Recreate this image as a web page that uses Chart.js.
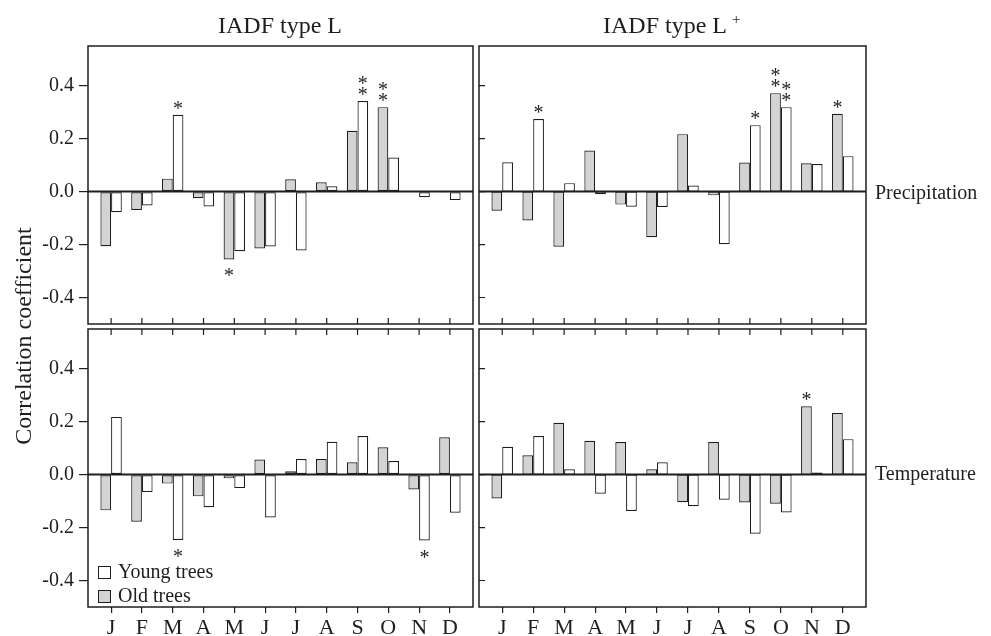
<!DOCTYPE html>
<html>
<head>
<meta charset="utf-8">
<script src="https://cdn.jsdelivr.net/npm/chart.js@4.4.1/dist/chart.umd.min.js"></script>
<style>
html,body{margin:0;padding:0;background:#fff;}
#wrap{position:relative;width:991px;height:636px;overflow:hidden;background:#fff;}
#wrap canvas{position:absolute;left:0;top:0;}
</style>
</head>
<body>
<div id="wrap">
<canvas id="tl" width="991" height="636"></canvas>
<canvas id="tr" width="991" height="636"></canvas>
<canvas id="bl" width="991" height="636"></canvas>
<canvas id="br" width="991" height="636"></canvas>
</div>
<script>
// ---- data ----
const months = ['J','F','M','A','M','J','J','A','S','O','N','D'];
const yTicks = [-0.4, -0.2, 0.0, 0.2, 0.4];

// Precipitation, IADF type L
const precipL_old   = [-0.206,-0.069, 0.049,-0.025,-0.256,-0.215, 0.047, 0.035, 0.230, 0.319,-0.002,-0.001];
const precipL_young = [-0.078,-0.052, 0.290,-0.056,-0.225,-0.207,-0.222, 0.020, 0.342, 0.129,-0.021,-0.032];
const precipL_oldSig   = [0,0,0,0,1,0,0,0,0,2,0,0];
const precipL_youngSig = [0,0,1,0,0,0,0,0,2,0,0,0];

// Precipitation, IADF type L+
const precipLp_old   = [-0.072,-0.109,-0.208, 0.155,-0.049,-0.172, 0.217,-0.014, 0.110, 0.372, 0.107, 0.294];
const precipLp_young = [ 0.111, 0.274, 0.032,-0.010,-0.057,-0.058, 0.023,-0.199, 0.251, 0.319, 0.104, 0.134];
const precipLp_oldSig   = [0,0,0,0,0,0,0,0,0,2,0,1];
const precipLp_youngSig = [0,1,0,0,0,0,0,0,1,2,0,0];

// Temperature, IADF type L
const tempL_old   = [-0.135,-0.178,-0.034,-0.082,-0.014, 0.057, 0.013, 0.059, 0.047, 0.103,-0.056, 0.141];
const tempL_young = [ 0.218,-0.066,-0.247,-0.123,-0.051,-0.162, 0.059, 0.124, 0.146, 0.051,-0.249,-0.144];
const tempL_oldSig   = [0,0,0,0,0,0,0,0,0,0,0,0];
const tempL_youngSig = [0,0,1,0,0,0,0,0,0,0,1,0];

// Temperature, IADF type L+
const tempLp_old   = [-0.090, 0.073, 0.196, 0.128, 0.123, 0.020,-0.104, 0.123,-0.105,-0.110, 0.258, 0.233];
const tempLp_young = [ 0.105, 0.146, 0.020,-0.072,-0.137, 0.047,-0.119,-0.095,-0.223,-0.143, 0.008, 0.134];
const tempLp_oldSig   = [0,0,0,0,0,0,0,0,0,0,1,0];
const tempLp_youngSig = [0,0,0,0,0,0,0,0,0,0,0,0];

// ---- styling ----
const FONT = '"Liberation Serif", "Times New Roman", Times, serif';
const INK = '#1e1e1e';
const OLD_FILL = '#d3d3d3';
const YOUNG_FILL = '#ffffff';
const Y_AXIS_W = 60;

const decor = {
  id: 'decor',
  afterDatasetsDraw(chart, args, o) {
    const ctx = chart.ctx, a = chart.chartArea, x = chart.scales.x, y = chart.scales.y;
    ctx.save();
    // zero line
    const y0 = y.getPixelForValue(0);
    ctx.strokeStyle = INK;
    ctx.lineWidth = 2;
    ctx.beginPath(); ctx.moveTo(a.left, y0); ctx.lineTo(a.right, y0); ctx.stroke();
    // frame
    ctx.lineWidth = 1.5;
    ctx.strokeRect(a.left, a.top, a.right - a.left, a.bottom - a.top);
    // inward tick marks
    ctx.lineWidth = 1.2;
    ctx.beginPath();
    if (o.xTicksBottomIn) months.forEach((m, i) => { const px = x.getPixelForValue(i); ctx.moveTo(px, a.bottom); ctx.lineTo(px, a.bottom - 6); });
    if (o.xTicksTopIn) months.forEach((m, i) => { const px = x.getPixelForValue(i); ctx.moveTo(px, a.top); ctx.lineTo(px, a.top + 6); });
    if (o.yTicksLeftIn) yTicks.forEach(v => { const py = y.getPixelForValue(v); ctx.moveTo(a.left, py); ctx.lineTo(a.left + 6, py); });
    ctx.stroke();
    // significance asterisks
    ctx.fillStyle = INK;
    ctx.font = '20px ' + FONT;
    ctx.textAlign = 'center';
    ctx.textBaseline = 'alphabetic';
    (o.sig || []).forEach((arr, d) => {
      const meta = chart.getDatasetMeta(d);
      arr.forEach((n, i) => {
        if (!n) return;
        const bar = meta.data[i];
        const v = chart.data.datasets[d].data[i].y;
        for (let k = 0; k < n; k++) {
          const cy = v >= 0 ? bar.y - 10 - 11 * k : bar.y + 13 + 11 * k;
          ctx.fillText('*', bar.x, cy + 10);
        }
      });
    });
    ctx.restore();
  }
};

const texts = {
  id: 'texts',
  afterDraw(chart) {
    const ctx = chart.ctx;
    ctx.save();
    ctx.fillStyle = INK;
    ctx.textBaseline = 'alphabetic';
    // panel titles
    ctx.font = '24px ' + FONT;
    ctx.textAlign = 'center';
    ctx.fillText('IADF type L', 280, 33);
    ctx.textAlign = 'left';
    const w = ctx.measureText('IADF type L').width;
    ctx.fillText('IADF type L', 603, 33);
    ctx.font = '15px ' + FONT;
    ctx.fillText('+', 603 + w + 5, 24);
    // row labels
    ctx.font = '20px ' + FONT;
    ctx.fillText('Precipitation', 875, 199);
    ctx.fillText('Temperature', 875, 480);
    // y-axis title
    ctx.save();
    ctx.translate(31, 336);
    ctx.rotate(-Math.PI / 2);
    ctx.font = '24px ' + FONT;
    ctx.textAlign = 'center';
    ctx.fillText('Correlation coefficient', 0, 0);
    ctx.restore();
    // legend
    ctx.lineWidth = 1;
    ctx.strokeStyle = INK;
    ctx.fillStyle = YOUNG_FILL;
    ctx.fillRect(98.5, 566.5, 12, 12); ctx.strokeRect(98.5, 566.5, 12, 12);
    ctx.fillStyle = OLD_FILL;
    ctx.fillRect(98.5, 590.5, 12, 12); ctx.strokeRect(98.5, 590.5, 12, 12);
    ctx.fillStyle = INK;
    ctx.font = '20px ' + FONT;
    ctx.textAlign = 'left';
    ctx.fillText('Young trees', 118, 578);
    ctx.fillText('Old trees', 118, 602);
    ctx.restore();
  }
};

function makePanel(id, oldVals, youngVals, oldSig, youngSig, cfg) {
  const ds = (label, vals, fill) => ({
    label: label,
    data: vals.map((v, i) => ({ x: i, y: v })),
    backgroundColor: fill,
    borderColor: INK,
    borderWidth: 1.2,
    borderSkipped: false,
    categoryPercentage: 0.695,
    barPercentage: 1.0
  });
  const plugins = [decor];
  if (cfg.texts) plugins.push(texts);
  const r = cfg.rect; // panel rectangle [left, top, right, bottom]
  const pad = {
    left: cfg.showY ? r[0] - Y_AXIS_W : r[0],
    top: r[1],
    right: 991 - r[2],
    bottom: cfg.showX ? 0 : 636 - r[3]
  };
  return new Chart(document.getElementById(id), {
    type: 'bar',
    data: { datasets: [ds('Old trees', oldVals, OLD_FILL), ds('Young trees', youngVals, YOUNG_FILL)] },
    options: {
      responsive: false,
      animation: false,
      events: [],
      layout: { padding: pad },
      plugins: {
        legend: { display: false },
        tooltip: { enabled: false },
        decor: { sig: [oldSig, youngSig], xTicksBottomIn: cfg.xTicksBottomIn, xTicksTopIn: cfg.xTicksTopIn, yTicksLeftIn: cfg.yTicksLeftIn }
      },
      scales: {
        x: {
          type: 'linear', min: -0.75, max: 11.75, offset: false, bounds: 'data',
          display: cfg.showX,
          afterBuildTicks: ax => { ax.ticks = months.map((m, i) => ({ value: i })); },
          afterFit: ax => { if (cfg.showX) ax.height = 636 - r[3]; },
          grid: { offset: false, drawOnChartArea: false, drawTicks: true, tickLength: 6, color: INK, lineWidth: 1.2 },
          border: { display: false },
          ticks: { autoSkip: false, maxRotation: 0, minRotation: 0, padding: 2, color: INK,
                   font: { family: FONT, size: 22 }, callback: v => months[Math.round(v)] }
        },
        y: {
          type: 'linear', min: -0.5, max: 0.55, bounds: 'data',
          display: cfg.showY,
          afterBuildTicks: ax => { ax.ticks = yTicks.map(v => ({ value: v })); },
          afterFit: ax => { if (cfg.showY) ax.width = Y_AXIS_W; },
          grid: { drawOnChartArea: false, drawTicks: true, tickLength: 9, color: INK, lineWidth: 1.2 },
          border: { display: false },
          ticks: { padding: 5, color: INK, font: { family: FONT, size: 20 }, callback: v => v.toFixed(1) }
        }
      }
    },
    plugins: plugins
  });
}

makePanel('tl', precipL_old, precipL_young, precipL_oldSig, precipL_youngSig,
  { rect: [88, 46, 473, 324], showX: false, showY: true, xTicksBottomIn: true });
makePanel('tr', precipLp_old, precipLp_young, precipLp_oldSig, precipLp_youngSig,
  { rect: [479, 46, 866, 324], showX: false, showY: false, xTicksBottomIn: true, yTicksLeftIn: true });
makePanel('bl', tempL_old, tempL_young, tempL_oldSig, tempL_youngSig,
  { rect: [88, 329, 473, 607], showX: true, showY: true, xTicksTopIn: true });
makePanel('br', tempLp_old, tempLp_young, tempLp_oldSig, tempLp_youngSig,
  { rect: [479, 329, 866, 607], showX: true, showY: false, xTicksTopIn: true, yTicksLeftIn: true, texts: true });
</script>
</body>
</html>
